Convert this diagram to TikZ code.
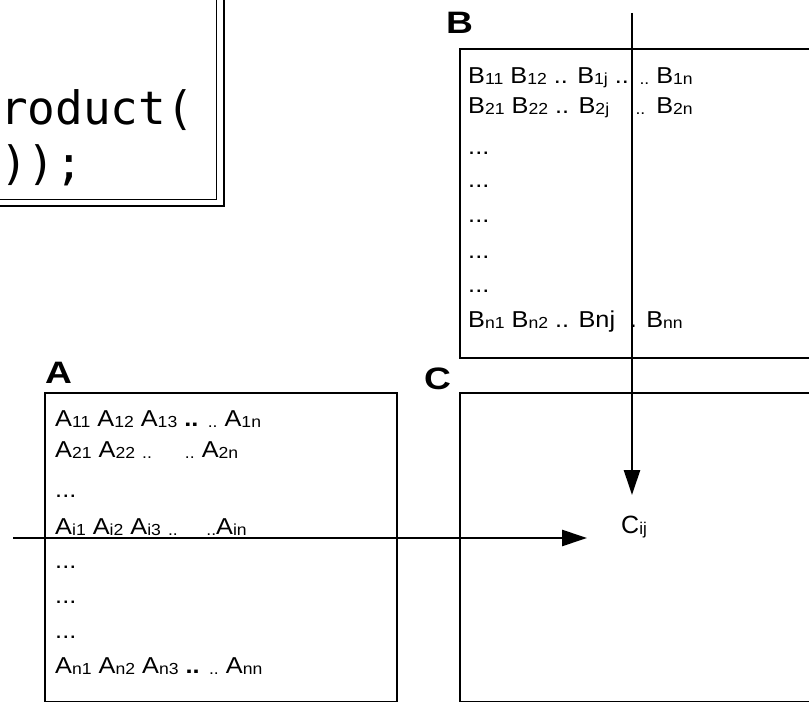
\documentclass[tikz,border=0pt]{standalone}
\usepackage{fontspec}
\setmainfont{Liberation Sans}
\newfontfamily\codefont{DejaVu Sans Mono}
\usetikzlibrary{arrows.meta}

% small lowered index used for matrix entries
\newcommand\subs[1]{{\fontsize{16}{16}\selectfont\raisebox{-1pt}{#1}}}
\newcommand\cellfont{\fontsize{23}{23}\selectfont}

\tikzset{
  cell/.style={anchor=base west, inner sep=0pt, font=\cellfont, xscale=1.1},
  cellr/.style={anchor=base east, inner sep=0pt, font=\cellfont, xscale=1.1},
  mlabel/.style={anchor=base west, inner sep=0pt, font=\bfseries\fontsize{31}{31}\selectfont, xscale=1.2},
  code/.style={anchor=base west, inner sep=0pt, font=\codefont\fontsize{46}{46}\selectfont},
  frame/.style={draw=black, line width=1.3pt},
  flow/.style={draw=black, line width=2.6pt, -{Triangle[length=25pt,width=16pt]}},
}

\begin{document}
\begin{tikzpicture}[x=1pt,y=-1pt]
\useasboundingbox (0,0) rectangle (809,703);
\clip (0,0) rectangle (809,703);

% code listing box with double border
\draw[line width=2pt] (-60,-60) rectangle (224,206);
\draw[line width=1pt] (-60,-60) rectangle (216,200);
\node[code] (code1) at (0,125) {roduct(};
\node[code] (code2) at (0,180) {));};

% matrix frames
\draw[frame] (45,393) rectangle (397,701.5);
\draw[frame] (460,49) rectangle (830,358);
\draw[frame] (460,393) rectangle (830,701.5);

% matrix names
\node[mlabel] (labA) at (45,384) {A};
\node[mlabel] (labB) at (446,34) {B};
\node[mlabel] (labC) at (424,390) {C};

% entries of A
\node[cell] (a1) at (55,427) {A\subs{11} A\subs{12} A\subs{13} \textbf{..} \subs{..} A\subs{1n}};
\node[cell] (a2) at (55,457) {A\subs{21} A\subs{22} \subs{..}\hspace{30pt}\subs{..} A\subs{2n}};
\node[cell] (a3) at (55,497) {...};
\node[cell] (a4) at (55,534) {A\subs{i1} A\subs{i2} A\subs{i3} \subs{..}\hspace{26pt}\subs{..}A\subs{in}};
\node[cell] (a5) at (55,568) {...};
\node[cell] (a6) at (55,603) {...};
\node[cell] (a7) at (55,638) {...};
\node[cell] (a8) at (55,673) {A\subs{n1} A\subs{n2} A\subs{n3} \textbf{..} \subs{..} A\subs{nn}};

% entries of B
\node[cell] (b1) at (468,84) {B\subs{11} B\subs{12} .. B\subs{1j} ..};
\node[cellr] (b1r) at (693,84) {\subs{..} B\subs{1n}};
\node[cell] (b2) at (468,114) {B\subs{21} B\subs{22} .. B\subs{2j}};
\node[cellr] (b2r) at (693,114) {\subs{..}\hspace{10pt}B\subs{2n}};
\node[cell] (b3) at (468,155) {...};
\node[cell] (b4) at (468,188) {...};
\node[cell] (b5) at (468,223) {...};
\node[cell] (b6) at (468,259) {...};
\node[cell] (b7) at (468,293) {...};
\node[cell] (b8) at (468,328) {B\subs{n1} B\subs{n2} .. Bnj};
\node[cellr] (b8r) at (683,328) {. B\subs{nn}};

% entry of C
\node[anchor=base west, inner sep=0pt, font=\fontsize{25}{25}\selectfont] (cij) at (621,533)
  {C{\fontsize{17}{17}\selectfont\raisebox{-1pt}{ij}}};

% row of A and column of B meeting in C
\coordinate (rowin) at (13,538);
\coordinate (rowout) at (587,538);
\coordinate (colin) at (632,13);
\coordinate (colout) at (632,495);
\draw[flow] (rowin) -- (rowout);
\draw[flow] (colin) -- (colout);
\end{tikzpicture}
\end{document}
